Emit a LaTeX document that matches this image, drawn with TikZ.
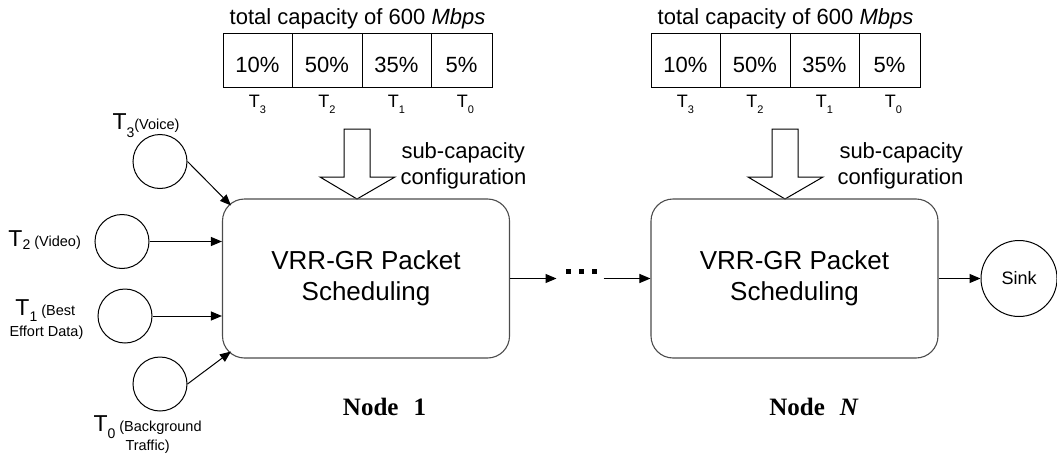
\documentclass[tikz,border=0pt]{standalone}
\usepackage{fontspec}
\setmainfont{Liberation Sans}
\newfontfamily\timesfont{Liberation Serif}
\usetikzlibrary{arrows.meta,calc}
\newcommand{\fs}[1]{\fontsize{#1}{#1}\selectfont}
\newcommand{\lsub}[3]{\raisebox{-#2}{\fs{#3}#1}}
\begin{document}
\begin{tikzpicture}[x=1pt,y=-1pt,line width=1pt,
  arr/.style={-{Triangle[length=11pt,width=9pt]}},
  proc/.style={draw=black!70,line width=1.1pt,rounded corners=22pt,minimum width=287pt,minimum height=159pt,inner sep=0pt,align=center,font=\fontsize{26}{31}\selectfont},
  cell/.style={draw,minimum height=54pt,inner sep=0pt,text height=24pt,text depth=0pt,font=\fs{22}},
  src/.style={draw,circle,minimum size=54pt,inner sep=0pt},
  tlab/.style={anchor=base,inner sep=0pt,font=\fs{18}},
  lab/.style={anchor=base west,inner sep=0pt,font=\fs{23}},
  small/.style={anchor=base west,inner sep=0pt,font=\fs{14.5}},
  note/.style={anchor=base west,inner sep=0pt,font=\fs{22}},
  hollow/.style={draw,line width=1pt,fill=white}]
\useasboundingbox (0,0) rectangle (1057,455);

% ---------- capacity table 1 ----------
\node[anchor=base,inner sep=0pt,font=\fs{22}] (cap1) at (357.5,24) {total capacity of 600 \textit{Mbps}};
\node[cell,minimum width=69pt] (a3) at (257.5,60) {10\%};
\node[cell,minimum width=70pt] (a2) at (327,60) {50\%};
\node[cell,minimum width=69pt] (a1) at (396.5,60) {35\%};
\node[cell,minimum width=61pt] (a0) at (461.5,60) {5\%};
\node[tlab] (la3) at ([yshift=-20pt]a3.south) {T\lsub{3}{6pt}{11}};
\node[tlab] (la2) at ([yshift=-20pt]a2.south) {T\lsub{2}{6pt}{11}};
\node[tlab] (la1) at ([yshift=-20pt]a1.south) {T\lsub{1}{6pt}{11}};
\node[tlab] (la0) at ([xshift=4pt,yshift=-20pt]a0.south) {T\lsub{0}{6pt}{11}};

% ---------- capacity table 2 ----------
\node[anchor=base,inner sep=0pt,font=\fs{22}] (cap2) at (785.5,24) {total capacity of 600 \textit{Mbps}};
\node[cell,minimum width=69pt] (b3) at (685.5,60) {10\%};
\node[cell,minimum width=70pt] (b2) at (755,60) {50\%};
\node[cell,minimum width=69pt] (b1) at (824.5,60) {35\%};
\node[cell,minimum width=61pt] (b0) at (889.5,60) {5\%};
\node[tlab] (lb3) at ([yshift=-20pt]b3.south) {T\lsub{3}{6pt}{11}};
\node[tlab] (lb2) at ([yshift=-20pt]b2.south) {T\lsub{2}{6pt}{11}};
\node[tlab] (lb1) at ([yshift=-20pt]b1.south) {T\lsub{1}{6pt}{11}};
\node[tlab] (lb0) at ([xshift=4pt,yshift=-20pt]b0.south) {T\lsub{0}{6pt}{11}};

% ---------- hollow arrows ----------
\draw[hollow] (344,129) -- (370,129) -- (370,177) -- (395,177) -- (357,199) -- (320,177) -- (344,177) -- cycle;
\draw[hollow] (772,129) -- (798,129) -- (798,177) -- (823,177) -- (785,199) -- (748,177) -- (772,177) -- cycle;
\node[note] (sc1a) at (401,158) {sub-capacity};
\node[note] (sc1b) at (400,184) {configuration};
\node[note] (sc2a) at (839,158) {sub-capacity};
\node[note] (sc2b) at (837,184) {configuration};

% ---------- scheduling boxes ----------
\node[proc] (n1) at (366,278.5) {VRR-GR Packet\\Scheduling};
\node[proc] (n2) at (794.5,278.5) {VRR-GR Packet\\Scheduling};
\node[anchor=base,inner sep=0pt,font=\timesfont\bfseries\fs{25}] (nl1) at (384.5,415) {Node\hspace{15pt}1};
\node[anchor=base,inner sep=0pt,font=\timesfont\bfseries\fs{25}] (nl2) at (814,415) {Node\hspace{15pt}\textit{N}};

% ---------- dots and sink ----------
\node[minimum width=46pt,minimum height=10pt,inner sep=0pt] (dots) at (580,278.5) {};
\fill (566,268.5) rectangle ++(5,5);
\fill (579,268.5) rectangle ++(5,5);
\fill (592,268.5) rectangle ++(5,5);
\node[draw,circle,minimum size=76pt,inner sep=0pt,font=\fs{18}] (sink) at (1019,278.5) {Sink};

\draw[arr] (n1.east) -- (n1.east -| dots.west);
\draw[arr] (dots.east) -- (dots.east -| n2.west);
\draw[arr] (n2.east) -- (sink.west);

% ---------- sources ----------
\node[src] (t3) at (160,161.5) {};
\node[src] (t2) at (122,241.5) {};
\node[src] (t1) at (125,316) {};
\node[src] (t0) at (160,384) {};

\draw[arr] (t3.east) -- ([shift={(9,7)}]n1.north west);
\draw[arr] (t2) -- (t2 -| n1.west);
\draw[arr] (t1) -- (t1 -| n1.west);
\draw[arr] (t0.east) -- ([shift={(9,-7)}]n1.south west);

\node[lab] (tl3) at (112,129) {T\lsub{3}{8pt}{14}\fs{14.5}(Voice)};
\node[lab] (tl2) at (8,246) {T\lsub{2}{3pt}{14}\fs{14.5} (Video)};
\node[lab] (tl1) at (15,315) {T\lsub{1}{6pt}{14}\fs{14.5} (Best};
\node[small] (tl1b) at (9,336) {Effort Data)};
\node[lab] (tl0) at (93,431) {T\lsub{0}{7pt}{14}\fs{14.5} (Background};
\node[small] (tl0b) at (125,450) {Traffic)};
\end{tikzpicture}
\end{document}
